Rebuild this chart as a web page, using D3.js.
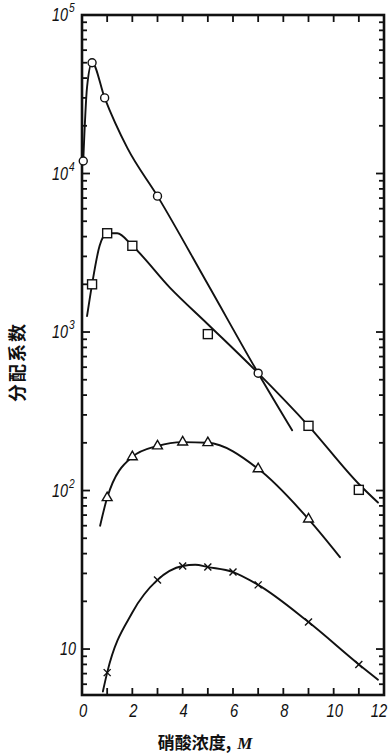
<!DOCTYPE html>
<html>
<head>
<meta charset="utf-8">
<script src="https://cdn.jsdelivr.net/npm/d3@7"></script>
<style>
  html, body { margin: 0; padding: 0; background: #fff; }
  svg { display: block; }
</style>
</head>
<body>
<svg id="chart" width="388" height="755"></svg>
<script>
// Distribution coefficient vs. nitric acid concentration (M)
const xTicks = [0, 2, 4, 6, 8, 10, 12];
const yDecades = [10, 100, 1000, 10000, 100000];
const yDecadeLabels = [["10", ""], ["10", "2"], ["10", "3"], ["10", "4"], ["10", "5"]];

// measured points (marker positions)
const circlePts   = [[0.05, 12000], [0.4, 50000], [0.9, 30000], [3, 7200], [7, 550]];
const squarePts   = [[0.4, 2000], [1, 4200], [2, 3500], [5, 970], [9, 256], [11, 101]];
const trianglePts = [[1, 90], [2, 163], [3, 191], [4, 202], [5, 200], [7, 137], [9, 66]];
const crossPts    = [[1, 7.1], [3, 27.3], [4, 33.4], [5, 32.9], [6, 30.6], [7, 25.4], [9, 14.8], [11, 8.0]];

// smoothed curve knots drawn through the measurements
const circleCurve   = [[0.05, 12000], [0.2, 35000], [0.4, 50000], [0.9, 30000], [1.8, 14500], [3, 7200], [5, 2000], [7, 550], [8.35, 240]];
const squareCurve   = [[0.2, 1260], [0.4, 2000], [0.7, 3500], [1, 4200], [1.4, 4200], [2, 3500], [3.5, 1900], [5, 1120], [7, 550], [9, 256], [11, 110], [11.76, 84]];
const triangleCurve = [[0.72, 60], [1, 90], [2, 163], [3, 191], [4, 202], [5, 200], [7, 137], [9, 66], [10.25, 38]];
const crossCurve    = [[0.83, 5.4], [1, 7.1], [2, 17], [3, 27.3], [4, 33.4], [4.5, 34], [5, 32.9], [6, 30.6], [7, 25.4], [9, 14.8], [11, 8.0], [11.76, 6.4]];

const svg = d3.select("#chart");
const m = { left: 82, right: 384, top: 15, bottom: 695 };

const x = d3.scaleLinear().domain([0, 12]).range([m.left, m.right]);
const y = d3.scaleLog().domain([5.13, 100000]).range([m.bottom, m.top]);

const ink = "#111";

// frame
svg.append("rect")
  .attr("x", m.left).attr("y", m.top)
  .attr("width", m.right - m.left).attr("height", m.bottom - m.top)
  .attr("fill", "none").attr("stroke", ink).attr("stroke-width", 2.6);

// log ticks on left and right (inward)
const logTicks = [];
for (let d = 1; d <= 10000; d *= 10) {
  for (let k = 1; k <= 9; k++) {
    const v = d * k;
    if (v >= y.domain()[0] && v <= 100000) logTicks.push({ v, major: k === 1 });
  }
}
logTicks.push({ v: 100000, major: true });

const gTicks = svg.append("g").attr("stroke", ink).attr("stroke-width", 1.8);
logTicks.forEach(t => {
  const len = t.major ? 8 : 5;
  gTicks.append("line").attr("x1", m.left).attr("x2", m.left + len).attr("y1", y(t.v)).attr("y2", y(t.v));
  gTicks.append("line").attr("x1", m.right).attr("x2", m.right - len).attr("y1", y(t.v)).attr("y2", y(t.v));
});

// integer ticks on top and bottom (inward)
d3.range(1, 12).forEach(v => {
  gTicks.append("line").attr("x1", x(v)).attr("x2", x(v)).attr("y1", m.top).attr("y2", m.top + 7);
  gTicks.append("line").attr("x1", x(v)).attr("x2", x(v)).attr("y1", m.bottom).attr("y2", m.bottom - 7);
});

// x tick labels
const numFont = "'Liberation Sans', Arial, sans-serif";
svg.append("g").selectAll("text").data(xTicks).join("text")
  .attr("transform", d => `translate(${d === 12 ? x(d) - 5 : x(d) + 1},717) scale(0.78,1)`)
  .attr("text-anchor", "middle")
  .attr("font-family", numFont).attr("font-style", "italic")
  .attr("font-size", 19).attr("fill", ink)
  .text(d => d);

// y decade labels
const yl = svg.append("g");
yDecades.forEach((v, i) => {
  const [base, sup] = yDecadeLabels[i];
  yl.append("text")
    .attr("transform", `translate(${sup ? 68 : 76},${y(v) + 6}) scale(0.8,1)`)
    .attr("text-anchor", "end")
    .attr("font-family", numFont).attr("font-style", "italic")
    .attr("font-size", 18).attr("fill", ink)
    .text(base);
  if (sup) {
    yl.append("text")
      .attr("transform", `translate(69,${y(v) - 3}) scale(0.85,1)`)
      .attr("font-family", numFont).attr("font-style", "italic")
      .attr("font-size", 12).attr("fill", ink)
      .text(sup);
  }
});

// axis titles
svg.append("text")
  .attr("transform", "translate(24,362) rotate(-90)")
  .attr("text-anchor", "middle")
  .attr("font-family", "'Noto Sans CJK SC', sans-serif").attr("font-weight", 700)
  .attr("font-size", 18).attr("letter-spacing", 2).attr("fill", ink)
  .text("分配系数");

const xt = svg.append("text")
  .attr("x", 205).attr("y", 749)
  .attr("text-anchor", "middle")
  .attr("font-family", "'Noto Sans CJK SC', sans-serif").attr("font-weight", 700)
  .attr("font-size", 17).attr("fill", ink);
xt.append("tspan").text("硝酸浓度,");
xt.append("tspan").attr("font-family", "'Liberation Serif', serif").attr("font-style", "italic")
  .attr("dx", 6).text("M");

// curves
const line = d3.line().x(d => x(d[0])).y(d => y(d[1])).curve(d3.curveMonotoneX);
const gLines = svg.append("g").attr("fill", "none").attr("stroke", ink).attr("stroke-width", 1.9)
  .attr("stroke-linejoin", "round").attr("stroke-linecap", "round");
[circleCurve, squareCurve, triangleCurve, crossCurve].forEach(c => gLines.append("path").attr("d", line(c)));

// markers
const gm = svg.append("g").attr("stroke", ink).attr("stroke-width", 1.4).attr("fill", "#fff");
gm.selectAll("circle").data(circlePts).join("circle")
  .attr("cx", d => x(d[0])).attr("cy", d => y(d[1])).attr("r", 4);
gm.selectAll("rect").data(squarePts).join("rect")
  .attr("x", d => x(d[0]) - 4.5).attr("y", d => y(d[1]) - 4.5).attr("width", 9).attr("height", 9);
const tri = d3.symbol().type(d3.symbolTriangle).size(42);
gm.selectAll("path.tri").data(trianglePts).join("path").attr("class", "tri")
  .attr("transform", d => `translate(${x(d[0])},${y(d[1])})`).attr("d", tri);
const crossG = svg.append("g").attr("stroke", ink).attr("stroke-width", 1.4);
crossPts.forEach(d => {
  const cx = x(d[0]), cy = y(d[1]), s = 3.5;
  crossG.append("line").attr("x1", cx - s).attr("y1", cy - s).attr("x2", cx + s).attr("y2", cy + s);
  crossG.append("line").attr("x1", cx - s).attr("y1", cy + s).attr("x2", cx + s).attr("y2", cy - s);
});
</script>
</body>
</html>
